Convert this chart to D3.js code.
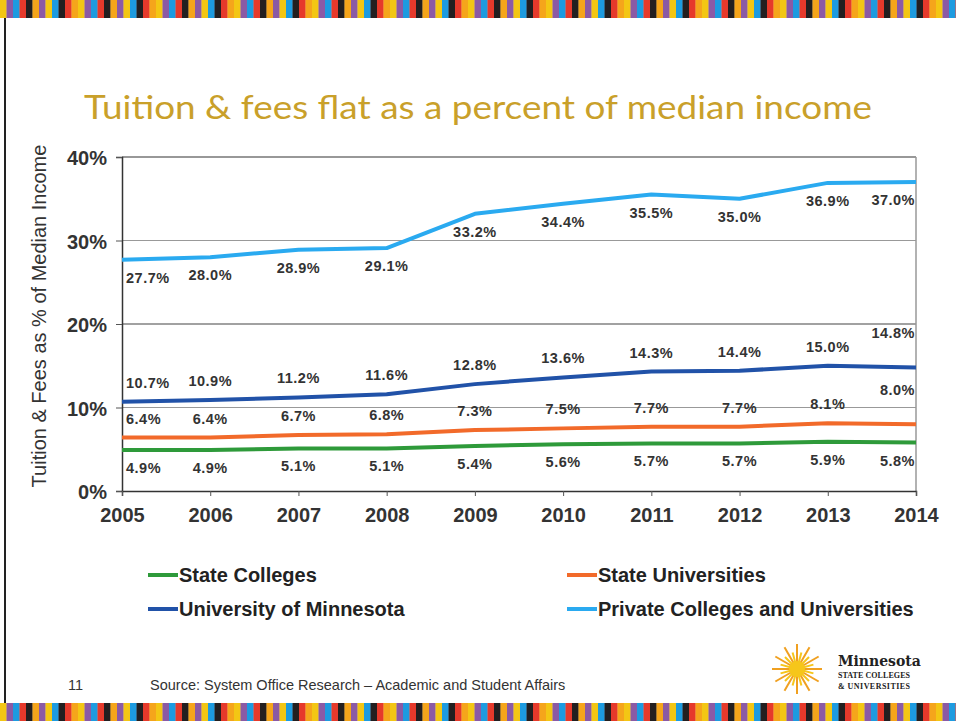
<!DOCTYPE html>
<html><head><meta charset="utf-8">
<script src="https://cdn.jsdelivr.net/npm/d3@7/dist/d3.min.js"></script>
<style>html,body{margin:0;padding:0;background:#fff;}svg{display:block;}</style>
</head><body>
<script>
const years = [2005,2006,2007,2008,2009,2010,2011,2012,2013,2014];
const stateColleges = [4.9,4.9,5.1,5.1,5.4,5.6,5.7,5.7,5.9,5.8];
const stateUniversities = [6.4,6.4,6.7,6.8,7.3,7.5,7.7,7.7,8.1,8.0];
const universityOfMinnesota = [10.7,10.9,11.2,11.6,12.8,13.6,14.3,14.4,15.0,14.8];
const privateColleges = [27.7,28.0,28.9,29.1,33.2,34.4,35.5,35.0,36.9,37.0];
const yTicks = [0,10,20,30,40];
const seriesNames = ["State Colleges","State Universities","University of Minnesota","Private Colleges and Universities"];
const seriesColors = ["#2e9a3a","#f26a2a","#2152a8","#2aaaf0"];
const labelSide = ["below","above","above","below"];
const stripeColors = ["#f3c614","#8b5aa5","#1d9be0","#e6392b","#231f20","#f5a51b","#8b5aa5","#f3c614","#1d9be0","#231f20","#e6392b","#f5a51b"];

(function(){
const W=956,H=721;
const svg=d3.select("body").append("svg").attr("width",W).attr("height",H);
const SANS="'Liberation Sans', Arial, sans-serif";

function stripes(yy,h){
  const g=svg.append("g");
  const sw=6.5; const n=Math.ceil(W/sw);
  g.selectAll("rect").data(d3.range(n)).join("rect")
    .attr("x",i=>i*sw).attr("y",yy).attr("width",sw+0.3).attr("height",h)
    .attr("fill",i=>stripeColors[i%stripeColors.length]);
}
stripes(0,18);
stripes(703,18);
svg.append("line").attr("x1",5).attr("x2",5).attr("y1",18).attr("y2",703).attr("stroke","#222").attr("stroke-width",2);

svg.append("text").attr("x",478).attr("y",119).attr("text-anchor","middle")
  .attr("font-family","Lato, 'Open Sans', sans-serif").attr("font-size",32)
  .attr("fill","#c9a02a").attr("textLength",788).attr("lengthAdjust","spacingAndGlyphs")
  .text("Tuition & fees flat as a percent of median income");

const pLeft=122,pRight=916,pTop=157,pBottom=491;
const x=d3.scaleLinear().domain([2005,2014]).range([pLeft,pRight]);
const y=d3.scaleLinear().domain([0,40]).range([pBottom,pTop]);

svg.append("g").selectAll("line").data(yTicks.filter(t=>t>0)).join("line")
  .attr("x1",pLeft).attr("x2",pRight).attr("y1",d=>y(d)).attr("y2",d=>y(d))
  .attr("stroke",d=>d===40?"#333":(d===20?"#444":"#999")).attr("stroke-width",1.2);
svg.append("line").attr("x1",pRight).attr("x2",pRight).attr("y1",pTop).attr("y2",pBottom).attr("stroke","#999").attr("stroke-width",1.5);

const yAxis=svg.append("g").attr("transform",`translate(${pLeft},0)`)
  .call(d3.axisLeft(y).tickValues(yTicks).tickFormat(d=>d+"%").tickSize(6).tickPadding(9));
const xAxis=svg.append("g").attr("transform",`translate(0,${pBottom})`)
  .call(d3.axisBottom(x).tickValues(years).tickFormat(d3.format("d")).tickSize(5).tickPadding(12));
[yAxis,xAxis].forEach(a=>{
  a.select(".domain").attr("stroke","#333").attr("stroke-width",1.5);
  a.selectAll(".tick line").attr("stroke","#555");
  a.selectAll("text").attr("font-family",SANS).attr("font-weight","bold").attr("font-size",20).attr("fill","#333");
});
yAxis.selectAll("text").attr("dy","0.38em");

svg.append("text").attr("transform","translate(46,316) rotate(-90)").attr("text-anchor","middle")
  .attr("font-family",SANS).attr("font-size",20).attr("fill","#333")
  .text("Tuition & Fees as % of Median Income");

const allSeries=[stateColleges,stateUniversities,universityOfMinnesota,privateColleges];
const line=d3.line().x((d,i)=>x(years[i])).y(d=>y(d));
allSeries.forEach((s,k)=>{
  svg.append("path").datum(s).attr("d",line).attr("fill","none")
    .attr("stroke",seriesColors[k]).attr("stroke-width",4).attr("stroke-linejoin","round");
});
allSeries.forEach((s,k)=>{
  const g=svg.append("g");
  s.forEach((v,i)=>{
    const t=g.append("text").attr("text-anchor","middle").attr("dominant-baseline","central")
      .attr("font-family",SANS).attr("font-weight","bold")
      .attr("font-size",14.5).attr("letter-spacing","0.5").attr("fill","#333").text(v.toFixed(1)+"%");
    const w=t.node().getComputedTextLength();
    let cx=x(years[i]);
    cx=Math.max(pLeft+w/2+4,Math.min(pRight-w/2-1,cx));
    let dy=labelSide[k]==="above"?-19:18;
    if(labelSide[k]==="above" && i===s.length-1) dy-=15;
    t.attr("x",cx).attr("y",y(v)+dy);
  });
});

const legendPos=[[148,575],[567,575],[148,609],[567,609]];
seriesNames.forEach((n,k)=>{
  const [lx,ly]=legendPos[k];
  svg.append("line").attr("x1",lx).attr("x2",lx+30).attr("y1",ly).attr("y2",ly)
    .attr("stroke",seriesColors[k]).attr("stroke-width",4);
  svg.append("text").attr("x",lx+31).attr("y",ly).attr("dominant-baseline","central")
    .attr("font-family",SANS).attr("font-weight","bold")
    .attr("font-size",20).attr("fill","#222").text(n);
});

svg.append("text").attr("x",68).attr("y",690).attr("font-family",SANS)
  .attr("font-size",14.5).attr("fill","#333").text("11");
svg.append("text").attr("x",150).attr("y",690).attr("font-family",SANS)
  .attr("font-size",14.5).attr("fill","#333").text("Source: System Office Research \u2013 Academic and Student Affairs");

const lg=svg.append("g").attr("transform","translate(797,669)");
lg.selectAll("line.r").data(d3.range(24)).join("line")
  .attr("x1",i=>Math.cos(i*Math.PI/12)*6).attr("y1",i=>Math.sin(i*Math.PI/12)*6)
  .attr("x2",i=>Math.cos(i*Math.PI/12)*(i%2?17:25)).attr("y2",i=>Math.sin(i*Math.PI/12)*(i%2?17:25))
  .attr("stroke",i=>i%2?"#f6c61a":"#f0a020").attr("stroke-width",2);
lg.append("circle").attr("r",8).attr("fill","#f6c61a");
svg.append("text").attr("x",838).attr("y",666).attr("font-family","'DejaVu Serif', 'Liberation Serif', serif")
  .attr("font-weight","bold").attr("font-size",14).attr("fill","#222").text("Minnesota");
svg.append("text").attr("x",838).attr("y",678).attr("font-family","'Liberation Serif', serif")
  .attr("font-weight","bold").attr("font-size",8).attr("fill","#222").attr("textLength",72).text("STATE COLLEGES");
svg.append("text").attr("x",838).attr("y",689).attr("font-family","'Liberation Serif', serif")
  .attr("font-weight","bold").attr("font-size",8).attr("fill","#222").attr("textLength",72).text("& UNIVERSITIES");
})();
</script>
</body></html>
